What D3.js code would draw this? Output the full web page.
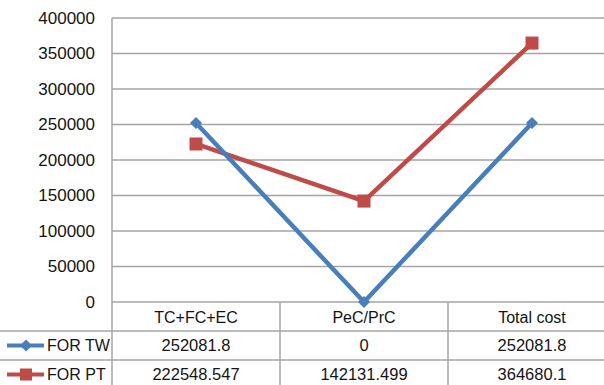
<!DOCTYPE html>
<html><head><meta charset="utf-8">
<script src="https://cdn.jsdelivr.net/npm/d3@7"></script>
<style>html,body{margin:0;padding:0;background:#fff;overflow:hidden}</style>
</head><body>
<svg id="c" width="604" height="385"></svg>
<script>
const categories = ["TC+FC+EC", "PeC/PrC", "Total cost"];
const seriesNames = ["FOR TW", "FOR PT"];
const forTW = [252081.8, 0, 252081.8];
const forPT = [222548.547, 142131.499, 364680.1];
const tableTW = ["252081.8", "0", "252081.8"];
const tablePT = ["222548.547", "142131.499", "364680.1"];
const yTicks = [0, 50000, 100000, 150000, 200000, 250000, 300000, 350000, 400000];

(function () {
const svg = d3.select("#c");
const plotLeft = 112, plotTop = 18, zeroY = 302, colW = 168;
const font = "'Liberation Sans', Arial, sans-serif";
const grid = "#a5a5a5";
const blue = "#4a7ebb", red = "#be4b48";
const ink = "#141414";

const x = d3.scaleBand().domain(categories).range([plotLeft, plotLeft + colW * categories.length]).padding(0);
const y = d3.scaleLinear().domain([0, 400000]).range([zeroY, plotTop]);

svg.append("g").selectAll("line").data(yTicks.filter(d => d > 0)).join("line")
  .attr("x1", plotLeft).attr("x2", 604).attr("y1", d => y(d)).attr("y2", d => y(d))
  .attr("stroke", grid).attr("stroke-width", 1.5);

const yAxis = d3.axisLeft(y).tickValues(yTicks).tickSize(0).tickPadding(0).tickFormat(d3.format("d"));
const ya = svg.append("g").attr("transform", `translate(95,0)`).call(yAxis);
ya.select(".domain").remove();
ya.selectAll("text").attr("font-family", font).attr("font-size", 17).attr("fill", ink);

const rowY = [zeroY, 331, 360];
svg.append("line").attr("x1", plotLeft).attr("x2", 604).attr("y1", rowY[0]).attr("y2", rowY[0]).attr("stroke", grid).attr("stroke-width", 1.5);
svg.append("line").attr("x1", 0).attr("x2", 604).attr("y1", rowY[1]).attr("y2", rowY[1]).attr("stroke", grid).attr("stroke-width", 1.5);
svg.append("line").attr("x1", 0).attr("x2", 604).attr("y1", rowY[2]).attr("y2", rowY[2]).attr("stroke", grid).attr("stroke-width", 1.5);
svg.append("line").attr("x1", plotLeft).attr("x2", plotLeft).attr("y1", plotTop).attr("y2", 385).attr("stroke", grid).attr("stroke-width", 1.5);
svg.append("g").selectAll("line").data(categories.slice(1)).join("line")
  .attr("x1", d => x(d)).attr("x2", d => x(d)).attr("y1", zeroY).attr("y2", 385)
  .attr("stroke", grid).attr("stroke-width", 1.5);

const cx = d => x(d) + x.bandwidth() / 2;
const tt = svg.append("g").attr("font-family", font).attr("fill", ink).attr("text-anchor", "middle");
tt.selectAll(".h").data(categories).join("text").attr("font-size", 16).attr("x", cx).attr("y", 317).attr("dy", "0.35em").text(d => d);
tt.selectAll(".a").data(categories).join("text").attr("font-size", 16.5).attr("x", cx).attr("y", 345.5).attr("dy", "0.35em").text((d, i) => tableTW[i]);
tt.selectAll(".b").data(categories).join("text").attr("font-size", 16.5).attr("x", cx).attr("y", 374.5).attr("dy", "0.35em").text((d, i) => tablePT[i]);

const keys = [{name: seriesNames[0], color: blue, y: 345.5, sq: false}, {name: seriesNames[1], color: red, y: 374.5, sq: true}];
keys.forEach(k => {
  svg.append("line").attr("x1", 7).attr("x2", 44).attr("y1", k.y).attr("y2", k.y).attr("stroke", k.color).attr("stroke-width", 4);
  if (k.sq) {
    svg.append("rect").attr("x", 20).attr("y", k.y - 6).attr("width", 12).attr("height", 12).attr("fill", k.color);
  } else {
    svg.append("path").attr("d", d3.symbol(d3.symbolSquare, 72)()).attr("transform", `translate(26,${k.y}) rotate(45)`).attr("fill", k.color);
  }
  svg.append("text").attr("x", 47).attr("y", k.y).attr("dy", "0.35em").attr("font-family", font).attr("font-size", 16).attr("fill", ink).text(k.name);
});

const line = d3.line().x((d, i) => cx(categories[i])).y(d => y(d));
svg.append("path").datum(forPT).attr("d", line).attr("fill", "none").attr("stroke", red).attr("stroke-width", 4.5).attr("stroke-linejoin", "round");
svg.append("path").datum(forTW).attr("d", line).attr("fill", "none").attr("stroke", blue).attr("stroke-width", 4.5).attr("stroke-linejoin", "round");

svg.append("g").selectAll("rect").data(forPT).join("rect")
  .attr("x", (d, i) => cx(categories[i]) - 6.5).attr("y", d => y(d) - 6.5).attr("width", 13).attr("height", 13).attr("fill", red);
svg.append("g").selectAll("path").data(forTW).join("path")
  .attr("d", d3.symbol(d3.symbolSquare, 72)())
  .attr("transform", (d, i) => `translate(${cx(categories[i])},${y(d)}) rotate(45)`).attr("fill", blue);
})();
</script>
</body></html>
